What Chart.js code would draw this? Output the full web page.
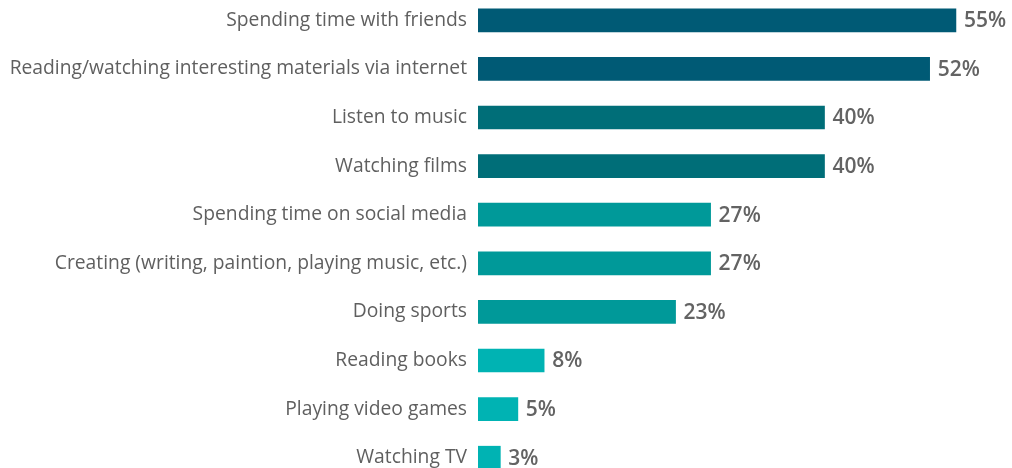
<!DOCTYPE html>
<html>
<head>
<meta charset="utf-8">
<script src="https://cdn.jsdelivr.net/npm/chart.js@4/dist/chart.umd.min.js"></script>
<style>
  html, body { margin: 0; padding: 0; background: #ffffff; overflow: hidden; }
  #chart { position: absolute; left: 0; top: -4px; }
</style>
</head>
<body>
<canvas id="chart" width="1012" height="486"></canvas>
<script>
// Leisure activities, share of respondents (%)
const categories = [
  "Spending time with friends",
  "Reading/watching interesting materials via internet",
  "Listen to music",
  "Watching films",
  "Spending time on social media",
  "Creating (writing, paintion, playing music, etc.)",
  "Doing sports",
  "Reading books",
  "Playing video games",
  "Watching TV"
];
const shares = [55, 52, 40, 40, 27, 27, 23, 8, 5, 3];
const barColors = [
  "#005a75", "#005a75",
  "#006e78", "#006e78",
  "#009999", "#009999", "#009999",
  "#00b3b3", "#00b3b3", "#00b3b3"
];

// Percent labels to the right of each bar
const valueLabels = {
  id: "valueLabels",
  afterDatasetsDraw(chart) {
    const ctx = chart.ctx;
    const meta = chart.getDatasetMeta(0);
    ctx.save();
    ctx.font = "600 21px 'Open Sans'";
    ctx.fillStyle = "#636363";
    ctx.textAlign = "left";
    ctx.textBaseline = "middle";
    meta.data.forEach((bar, i) => {
      ctx.fillText(shares[i] + "%", bar.x + 8, bar.y + 1);
    });
    ctx.restore();
  }
};

new Chart(document.getElementById("chart"), {
  type: "bar",
  data: {
    labels: categories,
    datasets: [{
      data: shares,
      backgroundColor: barColors,
      borderWidth: 0,
      barThickness: 23
    }]
  },
  options: {
    indexAxis: "y",
    responsive: false,
    animation: false,
    events: [],
    layout: { padding: 0 },
    plugins: {
      legend: { display: false },
      tooltip: { enabled: false }
    },
    scales: {
      x: {
        display: false,
        min: 0.45,
        max: 61.4
      },
      y: {
        afterFit(scale) {
          scale.width = 478;
          scale.paddingTop = 0;
          scale.paddingBottom = 0;
        },
        grid: { display: false, drawTicks: false },
        border: { display: false },
        ticks: {
          color: "#5f5f5f",
          font: { family: "'Open Sans'", size: 19.3 },
          padding: 11
        }
      }
    }
  },
  plugins: [valueLabels]
});
</script>
</body>
</html>
